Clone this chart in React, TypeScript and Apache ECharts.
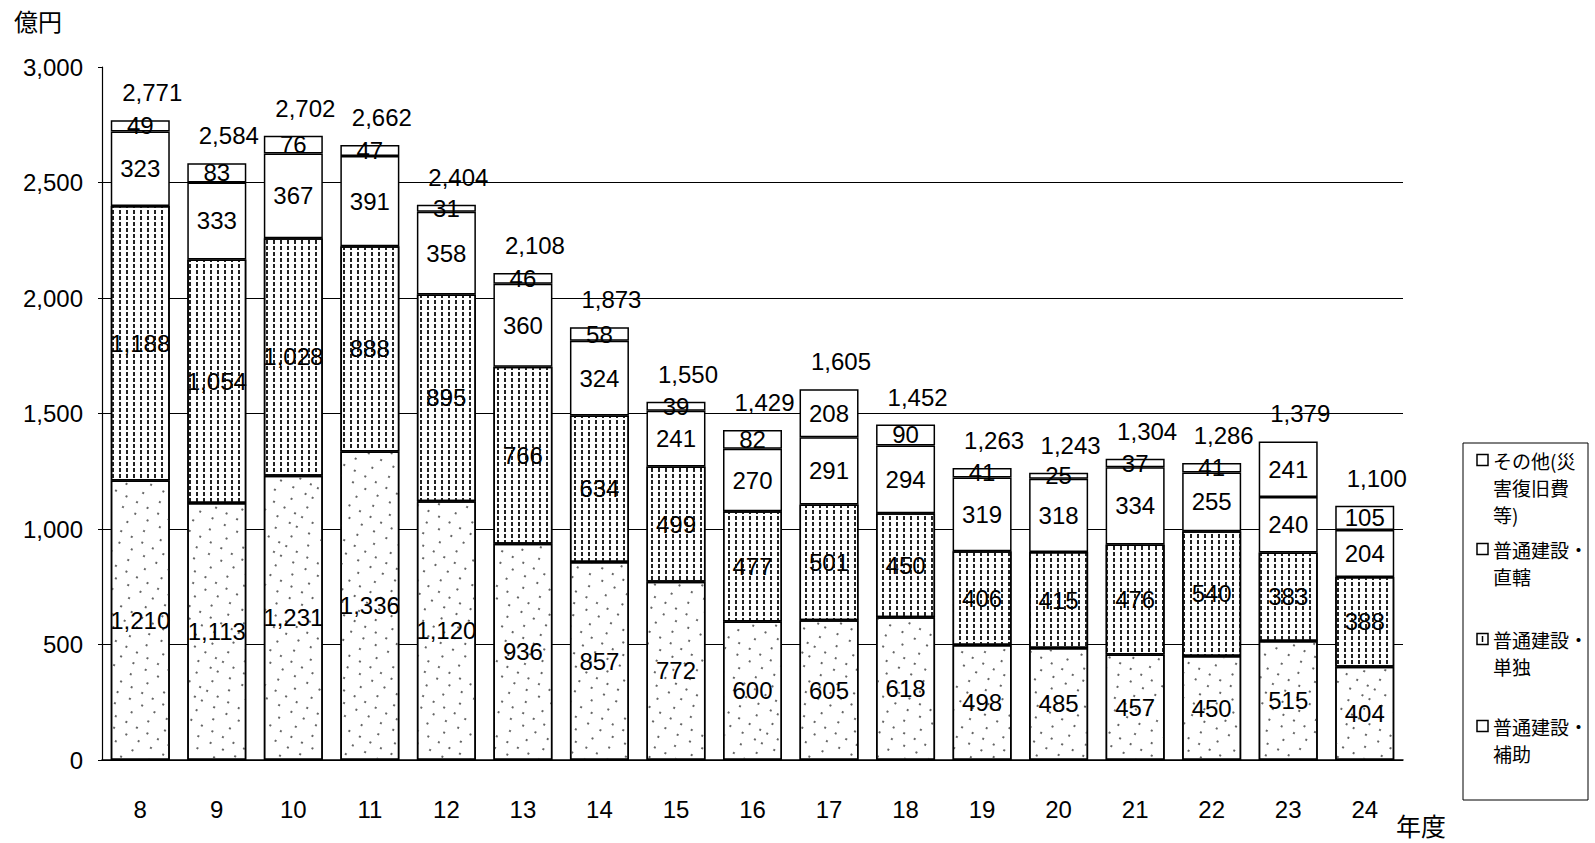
import React, { useEffect, useRef } from "react";
import * as echarts from "echarts";

const years = ["8", "9", "10", "11", "12", "13", "14", "15", "16", "17", "18", "19", "20", "21", "22", "23", "24"];
const hojo = [1210, 1113, 1231, 1336, 1120, 936, 857, 772, 600, 605, 618, 498, 485, 457, 450, 515, 404];
const tandoku = [1188, 1054, 1028, 888, 895, 766, 634, 499, 477, 501, 450, 406, 415, 476, 540, 383, 388];
const chokkatsu = [323, 333, 367, 391, 358, 360, 324, 241, 270, 291, 294, 319, 318, 334, 255, 240, 204];
const other = [49, 83, 76, 47, 31, 46, 58, 39, 82, 208, 90, 41, 25, 37, 41, 241, 105];
const totals = [2771, 2584, 2702, 2662, 2404, 2108, 1873, 1550, 1429, 1605, 1452, 1263, 1243, 1304, 1286, 1379, 1100];

const seriesNames = ["普通建設・補助", "普通建設・単独", "普通建設・直轄", "その他(災害復旧費等)"];
const legendLines = [
  ["その他(災", "害復旧費", "等)"],
  ["普通建設・", "直轄"],
  ["普通建設・", "単独"],
  ["普通建設・", "補助"],
];

const NUM_FONT = "'Liberation Sans Narrow', 'Liberation Sans', Arial, sans-serif";
const JP_FONT = "'Noto Sans CJK JP', sans-serif";
const fmt = (v: number) => v.toLocaleString("en-US");

export default function App() {
  const ref = useRef<HTMLDivElement>(null);
  useEffect(() => {
    if (!ref.current) return;
    const chart = echarts.init(ref.current, undefined, { renderer: "svg" });
    const label = {
      show: true,
      position: "inside" as const,
      color: "#000",
      fontFamily: NUM_FONT,
      fontSize: 24,
      formatter: (p: any) => fmt(p.value),
    };
    const baseItem = { borderColor: "#000", borderWidth: 1.5, color: "#fff" };
    const datasets = [hojo, tandoku, chokkatsu, other];
    const decals: any[] = [
      {
        symbol: "rect",
        symbolSize: 1,
        dashArrayX: [[1.5, 12], [1.5, 17], [1.5, 10]],
        dashArrayY: [1.5, 9],
        rotation: 0.5,
        color: "#666",
        backgroundColor: "#fff",
      },
      {
        symbol: "rect",
        symbolSize: 1,
        dashArrayX: [1.3, 5],
        dashArrayY: [4, 2],
        rotation: 0,
        color: "#222",
        backgroundColor: "#fff",
      },
      null,
      null,
    ];
    const series: any[] = datasets.map((d, i) => ({
      name: seriesNames[i],
      type: "bar",
      stack: "total",
      barWidth: 59,
      data: d,
      label,
      itemStyle: decals[i] ? { ...baseItem, decal: decals[i] } : { ...baseItem },
    }));
    series.push({
      name: "合計",
      type: "line",
      data: totals,
      symbol: "circle",
      symbolSize: 1,
      itemStyle: { color: "rgba(0,0,0,0)" },
      lineStyle: { opacity: 0 },
      label: {
        show: true,
        position: "top",
        distance: 15,
        offset: [12, 0],
        color: "#000",
        fontFamily: NUM_FONT,
        fontSize: 24,
        formatter: (p: any) => fmt(p.value),
      },
      z: 10,
    });

    const legendX = 1463;
    const legendY = 443;
    const firstLineCenters = [460, 549, 639, 726];
    const lineH = 27;
    const legendChildren: any[] = [
      {
        type: "rect",
        shape: { x: legendX, y: legendY, width: 125, height: 357 },
        style: { fill: "#fff", stroke: "#000", lineWidth: 1 },
      },
    ];
    legendLines.forEach((lines, i) => {
      const cy = firstLineCenters[i];
      legendChildren.push({
        type: "rect",
        shape: { x: 1477, y: cy - 5.5, width: 11, height: 11 },
        style: { fill: "#fff", stroke: "#000", lineWidth: 1.5 },
      });
      if (i === 2) {
        legendChildren.push({
          type: "line",
          shape: { x1: 1482.5, y1: cy - 3, x2: 1482.5, y2: cy + 3 },
          style: { stroke: "#000", lineWidth: 1.5 },
        });
      }
      legendChildren.push({
        type: "text",
        style: {
          x: 1493,
          y: cy - lineH / 2,
          text: lines.join("\n"),
          fontFamily: JP_FONT,
          fontSize: 19,
          lineHeight: lineH,
          fill: "#000",
          verticalAlign: "top",
        },
      });
    });

    chart.setOption({
      animation: false,
      backgroundColor: "#fff",
      grid: { left: 102, right: 192, top: 67, bottom: 83 },
      xAxis: {
        type: "category",
        data: years,
        axisLine: { lineStyle: { color: "#000", width: 1.5 } },
        axisTick: { show: false },
        axisLabel: { color: "#000", fontFamily: NUM_FONT, fontSize: 24, margin: 37 },
      },
      yAxis: {
        type: "value",
        min: 0,
        max: 3000,
        interval: 500,
        axisLine: { show: true, lineStyle: { color: "#000", width: 1.2 } },
        axisTick: { show: true, inside: false, length: 4, lineStyle: { color: "#000" } },
        axisLabel: {
          color: "#000",
          fontFamily: NUM_FONT,
          fontSize: 24,
          margin: 19,
          formatter: (v: number) => fmt(v),
        },
        splitLine: {
          show: true,
          lineStyle: {
            color: ["#000", "#000", "#000", "#000", "#000", "#000", "rgba(0,0,0,0)"],
            width: 1,
          },
        },
      },
      series,
      graphic: [
        {
          type: "text",
          style: { x: 14, y: 9, text: "億円", fontFamily: JP_FONT, fontSize: 24, fill: "#000" },
        },
        {
          type: "text",
          style: { x: 1396, y: 812, text: "年度", fontFamily: JP_FONT, fontSize: 25, fill: "#000" },
        },
        { type: "group", children: legendChildren },
      ],
    });
    return () => chart.dispose();
  }, []);
  return (
    <div
      ref={ref}
      style={{ position: "absolute", left: 0, top: 0, width: 1595, height: 843 }}
    />
  );
}
